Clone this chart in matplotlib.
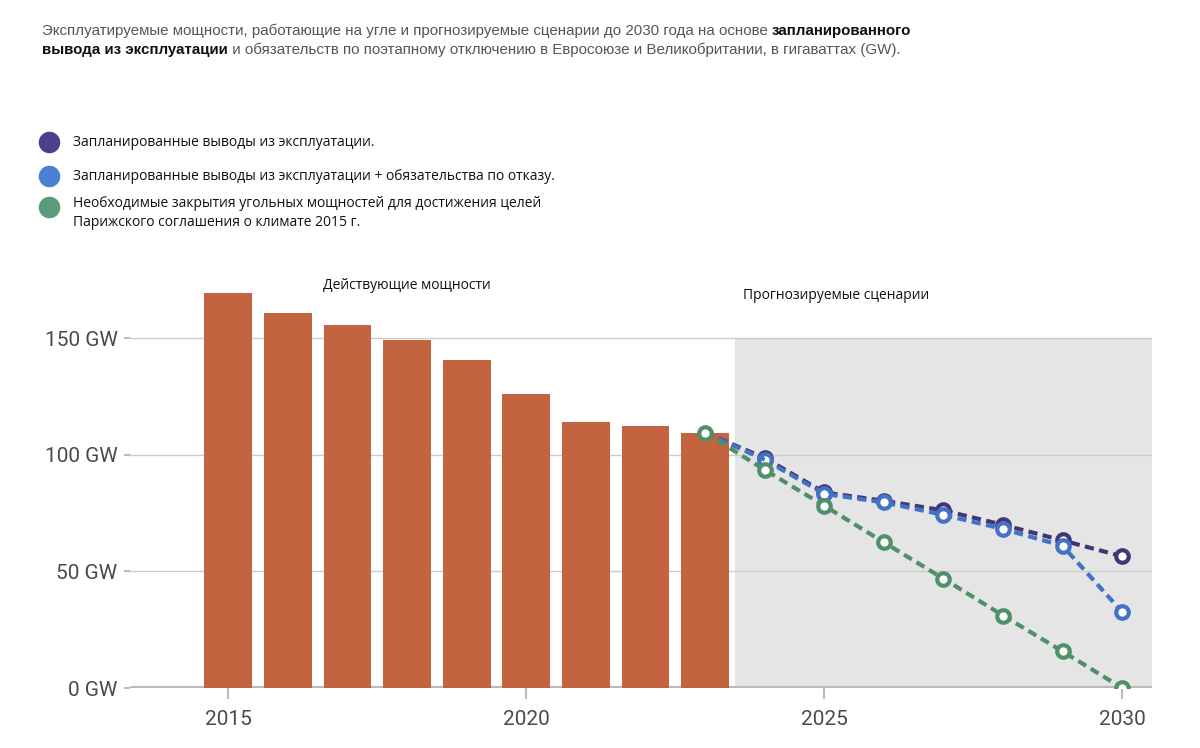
import matplotlib
matplotlib.use("Agg")
import matplotlib.pyplot as plt
from matplotlib.lines import Line2D

# historical operating capacity, GW
years_hist = [2015, 2016, 2017, 2018, 2019, 2020, 2021, 2022, 2023]
capacity = [169.6, 160.9, 155.7, 149.4, 140.8, 126.3, 113.9, 112.3, 109.5]

# projection scenarios, GW
proj_years = [2023, 2024, 2025, 2026, 2027, 2028, 2029, 2030]
planned = [109.5, 98.7, 83.9, 80.3, 76.2, 70.0, 63.3, 56.5]
planned_commit = [109.5, 97.9, 83.3, 79.6, 74.3, 68.2, 61.0, 32.6]
paris = [109.5, 93.6, 78.2, 62.5, 46.9, 31.1, 15.7, 0.0]

y_ticks = [0, 50, 100, 150]
y_labels = ["0 GW", "50 GW", "100 GW", "150 GW"]
x_ticks = [2015, 2020, 2025, 2030]

legend_labels = [
    "Запланированные выводы из эксплуатации.",
    "Запланированные выводы из эксплуатации + обязательства по отказу.",
    "Необходимые закрытия угольных мощностей для достижения целей\nПарижского соглашения о климате 2015 г.",
]

bar_color = "#c4633f"
c_planned = "#3f3878"
c_commit = "#4472c4"
c_paris = "#4f9069"
grey_txt = "#4a4a4a"

fig = plt.figure(figsize=(12, 7.48), dpi=100)
ax = fig.add_axes([130 / 1200, 1 - 688 / 748, 1022 / 1200, (688 - 268.4) / 748])

# shaded projection area
ax.fill_between([2023.5, 2030.5], 0, 150, color="#e5e5e5", zorder=0, lw=0)

ax.bar(years_hist, capacity, width=0.8, color=bar_color, zorder=2)

line_kw = dict(lw=3, dashes=(2.2, 1.3), marker="o", markersize=9,
               markerfacecolor="white", markeredgewidth=3, zorder=3)
ax.plot(proj_years[1:], planned[1:], color=c_planned, **line_kw)
ax.plot(proj_years[:2], planned[:2], color=c_planned, lw=3, dashes=(2.2, 1.3), zorder=3)
ax.plot(proj_years[1:], planned_commit[1:], color=c_commit, **line_kw)
ax.plot(proj_years[:2], planned_commit[:2], color=c_commit, lw=3, dashes=(2.2, 1.3), zorder=3)
ax.plot(proj_years, paris, color=c_paris, **line_kw)

ax.set_xlim(2013.35, 2030.5)
ax.set_ylim(0, 180)

ax.set_yticks(y_ticks)
ax.set_yticklabels(y_labels)
ax.set_xticks(x_ticks)
ax.tick_params(axis="both", colors="#bbbbbb", labelcolor=grey_txt, labelsize=15,
               labelfontfamily="Roboto")
ax.tick_params(axis="y", length=4, width=1.5, pad=5)
ax.tick_params(axis="x", length=8, width=1.5, pad=8)

for v in [50, 100, 150]:
    ax.axhline(v, color="#cccccc", lw=1, zorder=1)
ax.axhline(0, color="#bbbbbb", lw=3, zorder=1)

for s in ax.spines.values():
    s.set_visible(False)

ax.text(2018, 172.5, "Действующие мощности", ha="center", va="center",
        fontsize=10, family="Open Sans", color="#111111")
ax.text(2025.2, 168.5, "Прогнозируемые сценарии", ha="center", va="center",
        fontsize=10, family="Open Sans", color="#111111")

# title with bold fragments
tfont = dict(fontsize=10.9, family="Liberation Sans")
t1 = fig.text(42 / 1200, 1 - 38 / 748,
              "Эксплуатируемые мощности, работающие на угле и прогнозируемые сценарии до 2030 года на основе ",
              color="#555555", va="bottom", ha="left", **tfont)
ax.annotate("запланированного", xy=(1, 0), xycoords=t1, va="bottom", ha="left",
            color="#111111", weight="bold", annotation_clip=False, **tfont)
t2 = fig.text(42 / 1200, 1 - 57 / 748, "вывода из эксплуатации", color="#111111",
              weight="bold", va="bottom", ha="left", **tfont)
ax.annotate(" и обязательств по поэтапному отключению в Евросоюзе и Великобритании, в гигаваттах (GW).",
            xy=(1, 0), xycoords=t2, va="bottom", ha="left", color="#555555",
            annotation_clip=False, **tfont)

# legend
leg_colors = ["#4b3f8e", "#4a7fd4", "#5b9a7a"]
leg_y = [142, 176, 207]
leg_text_y = [142, 176, 213]
for col, yy, ty, lab in zip(leg_colors, leg_y, leg_text_y, legend_labels):
    fig.add_artist(Line2D([49 / 1200], [1 - yy / 748], marker="o", markersize=14.5,
                          color=col, transform=fig.transFigure))
    fig.text(73 / 1200, 1 - ty / 748, lab, va="center", ha="left", fontsize=10,
             family="Open Sans", color="#111111", linespacing=1.3)

fig.savefig("out.png", dpi=100)
